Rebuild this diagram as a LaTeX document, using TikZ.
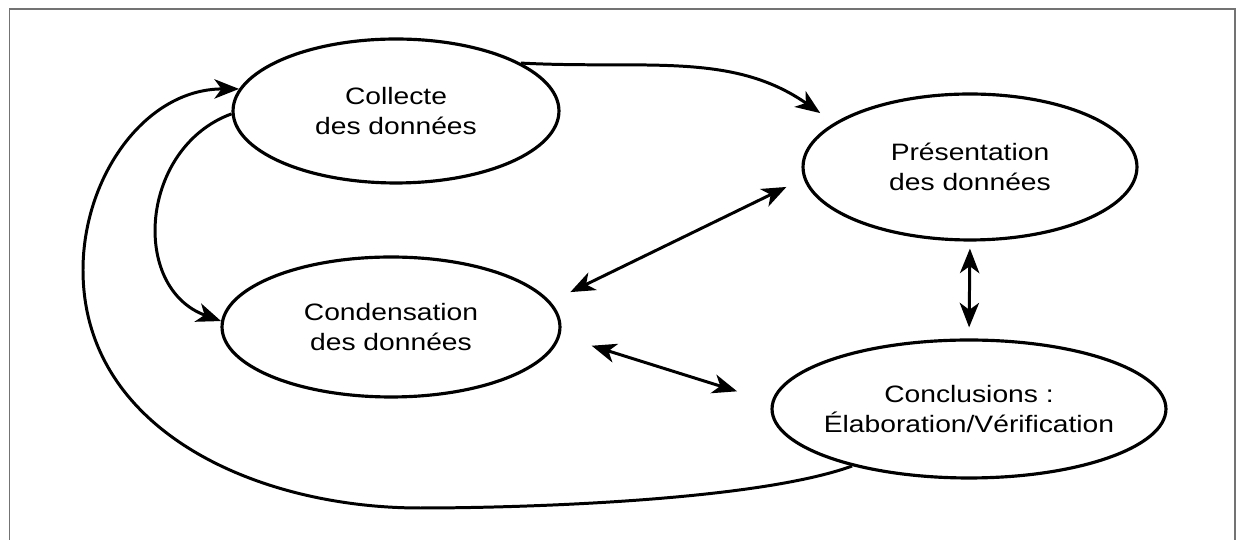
\documentclass[tikz,border=0pt]{standalone}
\usepackage{fontspec}
\newfontfamily\etiq{Liberation Sans}[FakeStretch=1.19]
\usetikzlibrary{arrows.meta}
\usetikzlibrary{shapes.geometric}

\begin{document}
\begin{tikzpicture}[x=0.02cm, y=0.02cm,
		etape/.style={draw, ellipse, line width=1.8pt, inner xsep=-10pt, inner ysep=0pt,
			align=center, font=\etiq\fontsize{13.5}{16.8}\selectfont},
		fleche/.style={line width=1.7pt, -{Stealth[length=14pt,width=11pt,inset=4pt]}},
		deux fleches/.style={line width=1.7pt,
			{Stealth[length=14pt,width=11pt,inset=4pt]}-{Stealth[length=14pt,width=11pt,inset=4pt]}}]
		\useasboundingbox (0,0) rectangle (1241,540);
		\draw[black!55, line width=0.9pt] (9.5,0) -- (9.5,531) -- (1235,531) -- (1235,0);
		
		\node[etape, minimum width=6.52cm, minimum height=2.88cm] (collecte) at (396,429) {Collecte\\des données};
		\node[etape, minimum width=6.68cm, minimum height=2.92cm] (presentation) at (970,373) {Présentation\\des données};
		\node[etape, minimum width=6.76cm, minimum height=2.80cm] (condensation) at (391,213) {Condensation\\des données};
		\node[etape, minimum width=7.88cm, minimum height=2.76cm] (conclusions) at (969,131) {Conclusions :\\Élaboration/Vérification};
		
		\coordinate (bas) at (420,32);
		\coordinate (gauche) at (83,270);
		
		\draw[fleche, shorten >=0.34cm] (collecte.21) to[out=-3, in=145] (presentation.162);
		\draw[fleche] (collecte.181) to[out=200, in=160, looseness=1.2] (condensation.178);
		\draw[fleche] (conclusions.206) to[out=200, in=0, looseness=0.6] (bas)
			to[out=180, in=-90] (gauche) to[out=90, in=180] (collecte.172);
		\draw[deux fleches, shorten <=0.44cm, shorten >=0.38cm] (condensation.9) -- (presentation.184);
		\draw[deux fleches, shorten <=0.66cm, shorten >=0.72cm] (condensation.-3) -- (conclusions.178);
		\draw[deux fleches, shorten <=0.14cm, shorten >=0.22cm] (presentation.south) -- (conclusions.north);
		
\end{tikzpicture}
\end{document}
